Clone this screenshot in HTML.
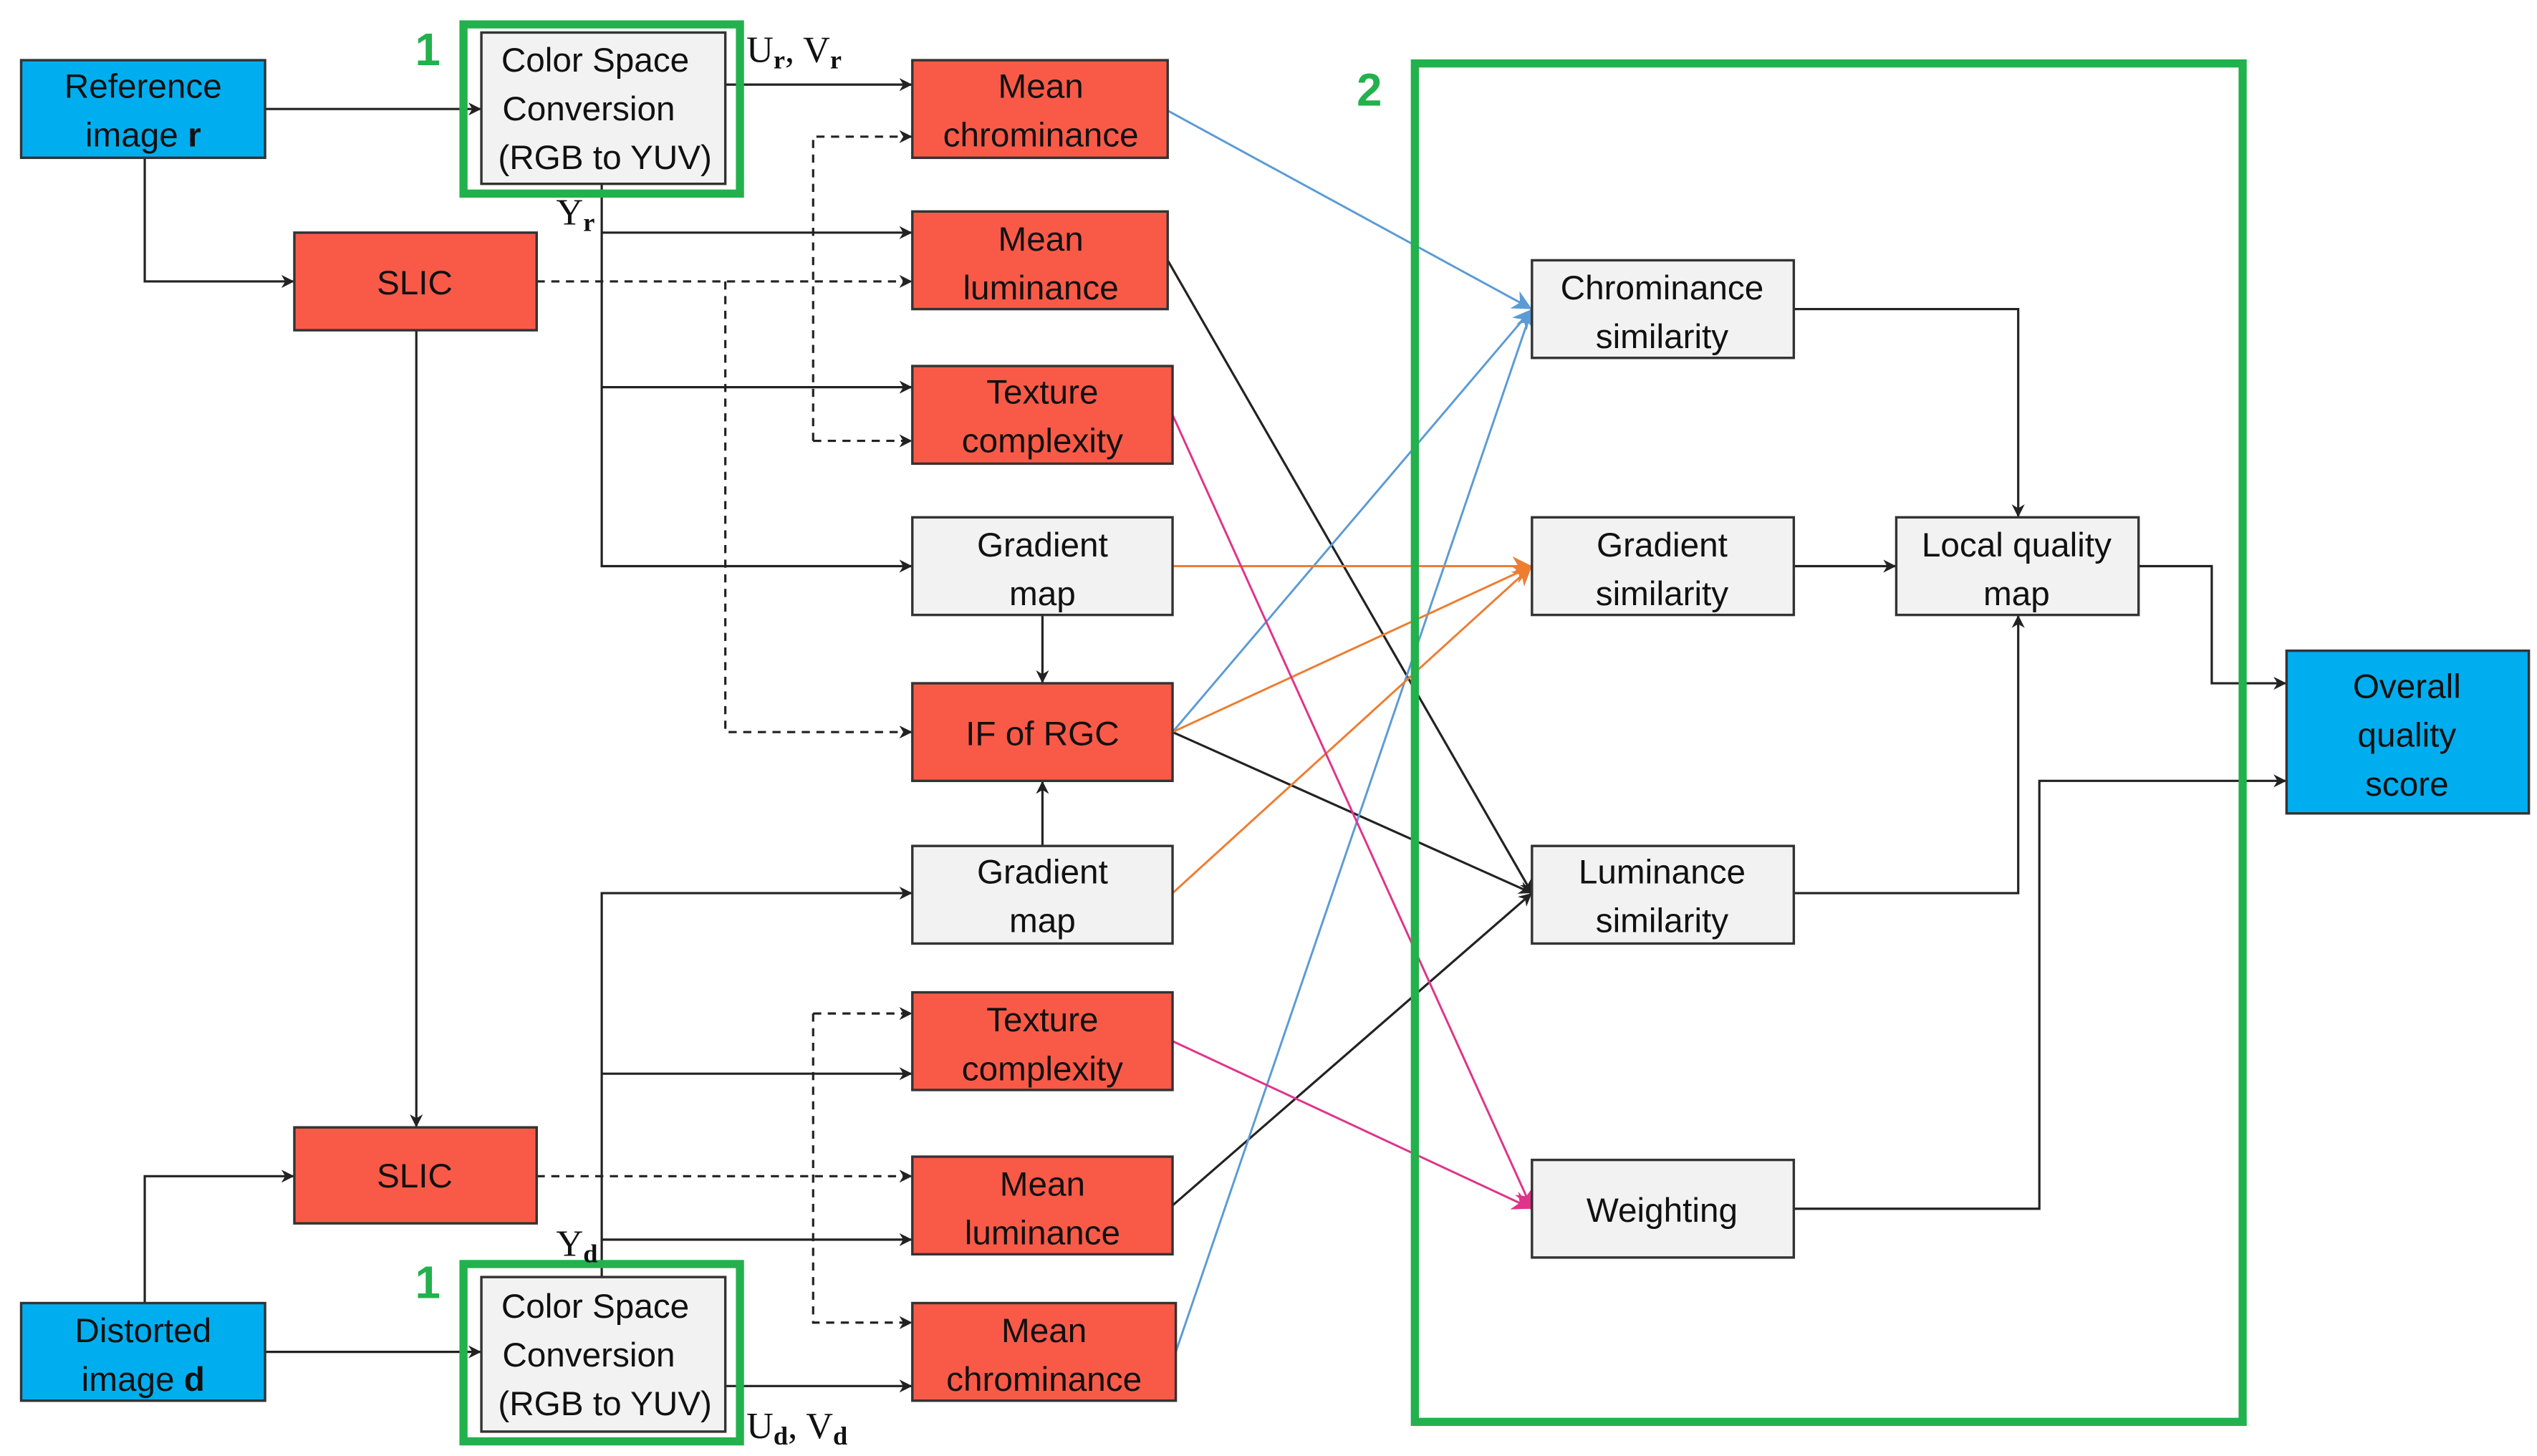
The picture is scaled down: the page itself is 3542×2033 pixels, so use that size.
<!DOCTYPE html>
<html><head><meta charset="utf-8"><style>
html,body{margin:0;padding:0;background:#fff;}
svg{display:block}
text{font-family:"Liberation Sans",sans-serif;font-size:21px;fill:#111;text-anchor:middle}
.s{font-family:"Liberation Serif",serif;font-size:23px;text-anchor:start}
.g{fill:#22b14c;font-weight:bold;font-size:28px}
</style></head><body>
<svg width="3542" height="2033" viewBox="0 0 1560 895" preserveAspectRatio="none">
<defs>
<marker id="a" viewBox="0 0 10 10" refX="10" refY="5" markerWidth="8" markerHeight="8" markerUnits="userSpaceOnUse" orient="auto"><path d="M0,0L10,5L0,10L3,5z" fill="#222"/></marker>
<marker id="b" viewBox="0 0 10 10" refX="10" refY="5" markerWidth="12" markerHeight="12" markerUnits="userSpaceOnUse" orient="auto"><path d="M0,0L10,5L0,10L3,5z" fill="#5b9bd5"/></marker>
<marker id="o" viewBox="0 0 10 10" refX="10" refY="5" markerWidth="12" markerHeight="12" markerUnits="userSpaceOnUse" orient="auto"><path d="M0,0L10,5L0,10L3,5z" fill="#ed7d31"/></marker>
<marker id="p" viewBox="0 0 10 10" refX="10" refY="5" markerWidth="12" markerHeight="12" markerUnits="userSpaceOnUse" orient="auto"><path d="M0,0L10,5L0,10L3,5z" fill="#e0338a"/></marker>
</defs>
<rect width="1560" height="895" fill="#fff"/>
<g fill="none" stroke="#222" stroke-width="1.4" marker-end="url(#a)">
<path d="M163,67H296"/>
<path d="M89,97V173H181"/>
<path d="M446,52H561"/>
<path d="M370,113V348H561"/>
<path d="M370,143H561"/>
<path d="M370,238H561"/>
<path d="M256,203V693"/>
<path d="M641,378V420"/>
<path d="M641,520V480"/>
<path d="M89,801V723H181"/>
<path d="M163,831H296"/>
<path d="M446,852H561"/>
<path d="M370,785V549H561"/>
<path d="M370,660H561"/>
<path d="M370,762H561"/>
<path d="M1103,190H1241V318"/>
<path d="M1103,348H1166"/>
<path d="M1103,549H1241V378"/>
<path d="M1315,348H1360V420H1406"/>
<path d="M1103,743H1254V480H1406"/>
<path d="M718,160L942,549"/>
<path d="M721,450L942,549"/>
<path d="M721,741L942,549"/>
</g>
<g fill="none" stroke="#222" stroke-width="1.4" stroke-dasharray="5,4" marker-end="url(#a)">
<path d="M330,173H561"/>
<path d="M446,173V450H561"/>
<path d="M500,271V84H561"/>
<path d="M500,271H561"/>
<path d="M330,723H561"/>
<path d="M500,623V813H561"/>
<path d="M500,623H561"/>
</g>
<g fill="none" stroke="#5b9bd5" stroke-width="1.3" marker-end="url(#b)">
<path d="M718,68L942,190"/><path d="M721,450L942,190"/><path d="M723,831L942,190"/>
</g>
<g fill="none" stroke="#ed7d31" stroke-width="1.3" marker-end="url(#o)">
<path d="M721,348H942"/><path d="M721,450L942,348"/><path d="M721,549L942,348"/>
</g>
<g fill="none" stroke="#e0338a" stroke-width="1.3" marker-end="url(#p)">
<path d="M721,255L942,743"/><path d="M721,640L942,743"/>
</g>
<g stroke="#333" stroke-width="1.5">
<rect x="13" y="37" width="150" height="60" fill="#00aeef"/>
<rect x="13" y="801" width="150" height="60" fill="#00aeef"/>
<rect x="1406" y="400" width="149" height="100" fill="#00aeef"/>
<rect x="181" y="143" width="149" height="60" fill="#f95a48"/>
<rect x="181" y="693" width="149" height="59" fill="#f95a48"/>
<rect x="561" y="37" width="157" height="60" fill="#f95a48"/>
<rect x="561" y="130" width="157" height="60" fill="#f95a48"/>
<rect x="561" y="225" width="160" height="60" fill="#f95a48"/>
<rect x="561" y="420" width="160" height="60" fill="#f95a48"/>
<rect x="561" y="610" width="160" height="60" fill="#f95a48"/>
<rect x="561" y="711" width="160" height="60" fill="#f95a48"/>
<rect x="561" y="801" width="162" height="60" fill="#f95a48"/>
<rect x="561" y="318" width="160" height="60" fill="#f2f2f2"/>
<rect x="561" y="520" width="160" height="60" fill="#f2f2f2"/>
<rect x="296" y="20" width="150" height="93" fill="#f2f2f2"/>
<rect x="296" y="785" width="150" height="95" fill="#f2f2f2"/>
<rect x="942" y="160" width="161" height="60" fill="#f2f2f2"/>
<rect x="942" y="318" width="161" height="60" fill="#f2f2f2"/>
<rect x="1166" y="318" width="149" height="60" fill="#f2f2f2"/>
<rect x="942" y="520" width="161" height="60" fill="#f2f2f2"/>
<rect x="942" y="713" width="161" height="60" fill="#f2f2f2"/>
</g>
<g fill="none" stroke="#22b14c" stroke-width="5">
<rect x="285" y="15" width="170" height="104"/>
<rect x="285" y="777" width="170" height="109"/>
<rect x="870" y="39" width="509" height="835"/>
</g>
<text class="g" x="263" y="40">1</text>
<text class="g" x="263" y="798">1</text>
<text class="g" x="842" y="65">2</text>
<text class="s" x="459" y="38">U<tspan font-size="16" dy="4" font-weight="bold">r</tspan><tspan dy="-4">, V</tspan><tspan font-size="16" dy="4" font-weight="bold">r</tspan></text>
<text class="s" x="342" y="138">Y<tspan font-size="16" dy="4" font-weight="bold">r</tspan></text>
<text class="s" x="342" y="772">Y<tspan font-size="16" dy="4" font-weight="bold">d</tspan></text>
<text class="s" x="459" y="884">U<tspan font-size="16" dy="4" font-weight="bold">d</tspan><tspan dy="-4">, V</tspan><tspan font-size="16" dy="4" font-weight="bold">d</tspan></text>
<text x="88" y="60">Reference</text><text x="88" y="90">image <tspan font-weight="bold">r</tspan></text>
<text x="88" y="825">Distorted</text><text x="88" y="855">image <tspan font-weight="bold">d</tspan></text>
<text x="1480" y="429">Overall</text><text x="1480" y="459">quality</text><text x="1480" y="489">score</text>
<text x="255" y="181">SLIC</text><text x="255" y="730">SLIC</text>
<text x="366" y="44">Color Space</text><text x="362" y="74">Conversion</text><text x="372" y="104">(RGB to YUV)</text>
<text x="366" y="810">Color Space</text><text x="362" y="840">Conversion</text><text x="372" y="870">(RGB to YUV)</text>
<text x="640" y="60">Mean</text><text x="640" y="90">chrominance</text>
<text x="640" y="154">Mean</text><text x="640" y="184">luminance</text>
<text x="641" y="248">Texture</text><text x="641" y="278">complexity</text>
<text x="641" y="342">Gradient</text><text x="641" y="372">map</text>
<text x="641" y="458">IF of RGC</text>
<text x="641" y="543">Gradient</text><text x="641" y="573">map</text>
<text x="641" y="634">Texture</text><text x="641" y="664">complexity</text>
<text x="641" y="735">Mean</text><text x="641" y="765">luminance</text>
<text x="642" y="825">Mean</text><text x="642" y="855">chrominance</text>
<text x="1022" y="184">Chrominance</text><text x="1022" y="214">similarity</text>
<text x="1022" y="342">Gradient</text><text x="1022" y="372">similarity</text>
<text x="1240" y="342">Local quality</text><text x="1240" y="372">map</text>
<text x="1022" y="543">Luminance</text><text x="1022" y="573">similarity</text>
<text x="1022" y="751">Weighting</text>
</svg>
</body></html>
